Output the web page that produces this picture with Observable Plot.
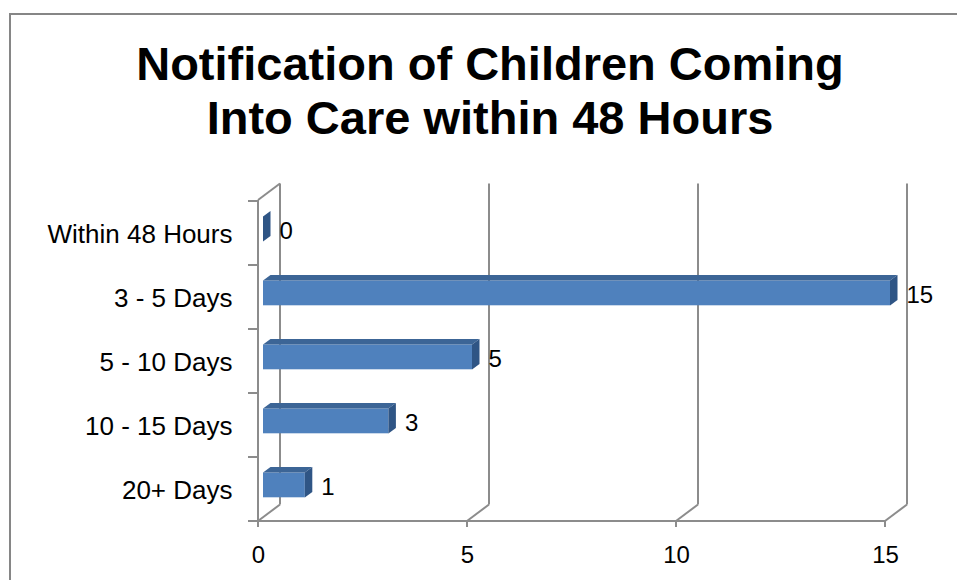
<!DOCTYPE html>
<html>
<head>
<meta charset="utf-8">
<script src="https://cdn.jsdelivr.net/npm/d3@7"></script>
<script src="https://cdn.jsdelivr.net/npm/@observablehq/plot@0.6"></script>
<style>
  body { margin: 0; background: #fff; }
  #chart { position: relative; width: 957px; height: 580px; overflow: hidden;
           font-family: "Liberation Sans", Arial, sans-serif; }
  #border { position: absolute; left: 9px; top: 13px; width: 1000px; height: 1000px;
            border: 2px solid #868686; box-sizing: border-box; }
  #title { position: absolute; left: 0; top: 37px; width: 980px; text-align: center;
           font-weight: bold; font-size: 47px; line-height: 54px; color: #000; }
  #plot { position: absolute; left: 0; top: 0; }
</style>
</head>
<body>
<div id="chart">
  <div id="border"></div>
  <div id="plot"></div>
  <div id="title">Notification of Children Coming<br>Into Care within 48 Hours</div>
</div>
<script>
// Categories (top to bottom) and the number of children in each
const categories = ["Within 48 Hours", "3 - 5 Days", "5 - 10 Days", "10 - 15 Days", "20+ Days"];
const counts = [0, 15, 5, 3, 1];
const xTicks = [0, 5, 10, 15];

const data = categories.map((category, i) => ({category, count: counts[i]}));

// Look of the pseudo-3D box
const gridColor = "#8c8c8c";
const WALL_DX = 22, WALL_DY = 16.5;     // offset of the back wall
const BAR_DX = 5;                        // bars sit slightly behind the front plane
const BAR_TOP = 15.5, BAR_H = 25;        // bar front face within its band
const FACE_DX = 7.5, FACE_DY = 5.5;      // bar depth
const frontFill = "#4f81bd", topFill = "#3c6596", sideFill = "#2f5585";

const marginTop = 200, marginBottom = 59, marginLeft = 258, marginRight = 72;
const bandwidth = (580 - marginTop - marginBottom) / categories.length;

// Back wall gridlines, floor diagonals, left wall and axis ticks
function depthFrame(index, scales, values, dim) {
  const sx = scales.x, sy = scales.y;
  const top = dim.marginTop, bottom = dim.height - dim.marginBottom;
  const g = d3.create("svg:g")
    .attr("stroke", gridColor).attr("stroke-width", 2).attr("fill", "none");
  const line = (x1, y1, x2, y2) =>
    g.append("line").attr("x1", x1).attr("y1", y1).attr("x2", x2).attr("y2", y2);
  for (const v of xTicks) {
    const x = sx(v);
    line(x + WALL_DX, top - WALL_DY, x + WALL_DX, bottom - WALL_DY);
    line(x, bottom, x + WALL_DX, bottom - WALL_DY);
    line(x, bottom, x, bottom + 6);
  }
  const x0 = sx(0);
  line(x0, top, x0, bottom);
  line(x0, top, x0 + WALL_DX, top - WALL_DY);
  line(x0, bottom, sx(xTicks[xTicks.length - 1]), bottom);
  for (const c of categories) line(x0 - 10, sy(c), x0, sy(c));
  line(x0 - 10, bottom, x0, bottom);
  return g.node();
}

// Top and side faces of each bar
function barFaces(index, scales) {
  const sx = scales.x, sy = scales.y;
  const g = d3.create("svg:g");
  for (const d of data) {
    const x0 = sx(0) + BAR_DX, x1 = sx(d.count) + BAR_DX;
    const yt = sy(d.category) + BAR_TOP, yb = yt + BAR_H;
    if (x1 > x0) {
      g.append("polygon").attr("fill", topFill)
        .attr("points", [[x0, yt], [x1, yt], [x1 + FACE_DX, yt - FACE_DY], [x0 + FACE_DX, yt - FACE_DY]].join(" "));
    }
    g.append("polygon").attr("fill", sideFill)
      .attr("points", [[x1, yt], [x1 + FACE_DX, yt - FACE_DY], [x1 + FACE_DX, yb - FACE_DY], [x1, yb]].join(" "));
  }
  return g.node();
}

const chart = Plot.plot({
  width: 957,
  height: 580,
  marginTop, marginBottom, marginLeft, marginRight,
  style: {fontFamily: "'Liberation Sans', Arial, sans-serif", fontSize: "24px",
          color: "#000", background: "transparent", overflow: "visible"},
  x: {domain: [0, 15], label: null},
  y: {type: "band", domain: categories, padding: 0, label: null},
  marks: [
    depthFrame,
    Plot.barX(data, {x: "count", y: "category", dx: BAR_DX, fill: frontFill,
                     insetTop: BAR_TOP, insetBottom: bandwidth - BAR_TOP - BAR_H}),
    barFaces,
    Plot.text(data, {x: "count", y: "category", text: d => String(d.count),
                     dx: BAR_DX + 16, dy: -2, textAnchor: "start", fontSize: 24, fill: "#000"}),
    Plot.axisY({tickSize: 0, tickPadding: 26, fontSize: 26, dy: 1, fill: "#000"}),
    Plot.axisX({ticks: xTicks, tickSize: 0, tickPadding: 24, fontSize: 24, fill: "#000"})
  ]
});

document.getElementById("plot").appendChild(chart);
</script>
</body>
</html>
